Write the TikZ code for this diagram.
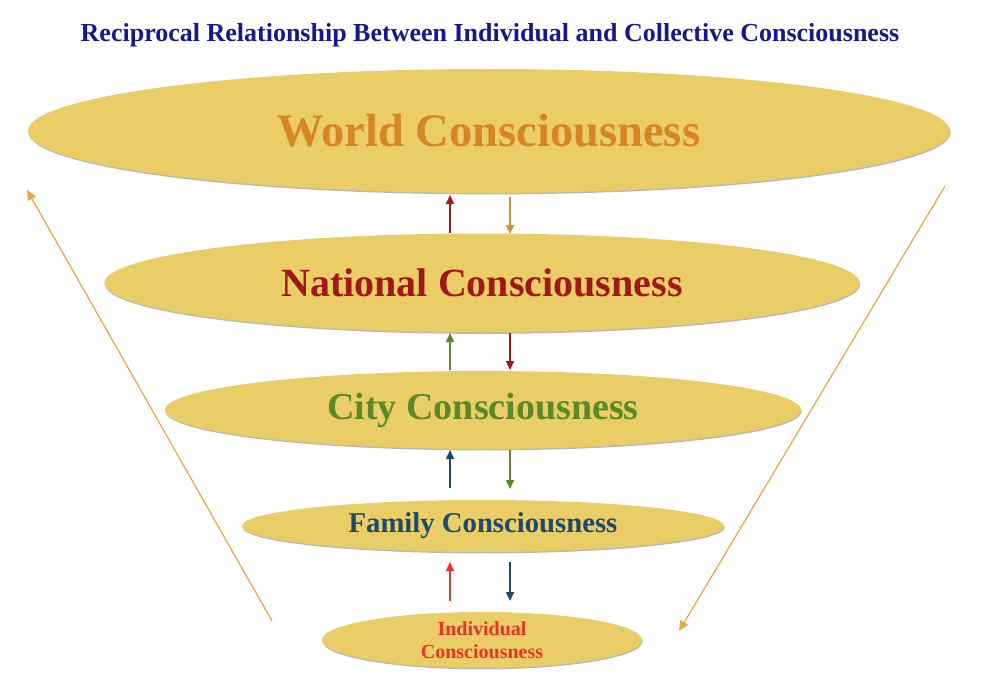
\documentclass[tikz,border=0pt]{standalone}
\usepackage{fontspec}
\setmainfont{Liberation Serif}
\usetikzlibrary{shapes.geometric,arrows.meta,shadows}
\definecolor{gold}{RGB}{234,205,102}
\definecolor{navytitle}{RGB}{22,24,140}
\definecolor{worldc}{RGB}{214,134,36}
\definecolor{natc}{RGB}{160,24,24}
\definecolor{cityc}{RGB}{92,136,40}
\definecolor{famc}{RGB}{30,74,106}
\definecolor{indc}{RGB}{236,50,40}
\definecolor{tanc}{RGB}{206,146,58}
\definecolor{sidec}{RGB}{240,164,64}
\tikzset{
  lvl/.style={ellipse, fill=gold, inner sep=0pt, font=\bfseries,
    drop shadow={shadow xshift=0.6pt, shadow yshift=-1.4pt, opacity=0.4, fill=black!70}},
  updown/.style={line width=1.5pt, -{Triangle[length=9pt,width=8pt]}},
  side/.style={line width=1.2pt, color=sidec, -{Triangle[length=10pt,width=9pt]}}
}
\begin{document}
\begin{tikzpicture}[x=1pt,y=-1pt]
\useasboundingbox (0,0) rectangle (982,690);
\node[font=\bfseries\fontsize{26}{30}\selectfont, text=navytitle] (title) at (490,35) {Reciprocal Relationship Between Individual and Collective Consciousness};

\node[lvl, minimum width=922pt, minimum height=124pt, text=worldc, font=\bfseries\fontsize{46.5}{52}\selectfont] (world) at (489,131) {World Consciousness};
\node[lvl, minimum width=755pt, minimum height=99pt, text=natc, font=\bfseries\fontsize{40}{46}\selectfont] (nat) at (482,283) {National Consciousness};
\node[lvl, minimum width=636pt, minimum height=78pt, text=cityc, font=\bfseries\fontsize{38}{44}\selectfont] (city) at (483,410) {City Consciousness};
\node[lvl, minimum width=482pt, minimum height=52pt, text=famc, font=\bfseries\fontsize{28.7}{33}\selectfont] (fam) at (483,526) {Family Consciousness};
\node[lvl, minimum width=320pt, minimum height=56pt, text=indc, align=center, font=\bfseries\fontsize{20}{23}\selectfont] (ind) at (482,640) {Individual\\Consciousness};

% arrow end points
\coordinate (wn1) at (450,233); \coordinate (wn2) at (450,195);
\coordinate (wn3) at (510,197); \coordinate (wn4) at (510,234);
\coordinate (nc1) at (450,370); \coordinate (nc2) at (450,333);
\coordinate (nc3) at (510,333); \coordinate (nc4) at (510,370);
\coordinate (cf1) at (450,488); \coordinate (cf2) at (450,450);
\coordinate (cf3) at (510,450); \coordinate (cf4) at (510,489);
\coordinate (fi1) at (450,601); \coordinate (fi2) at (450,562);
\coordinate (fi3) at (510,562); \coordinate (fi4) at (510,601);
\draw[updown, natc] (wn1) -- (wn2);
\draw[updown, tanc] (wn3) -- (wn4);
\draw[updown, cityc] (nc1) -- (nc2);
\draw[updown, natc] (nc3) -- (nc4);
\draw[updown, famc] (cf1) -- (cf2);
\draw[updown, cityc] (cf3) -- (cf4);
\draw[updown, indc] (fi1) -- (fi2);
\draw[updown, famc] (fi3) -- (fi4);

\coordinate (ls) at (272,621); \coordinate (le) at (27,190);
\coordinate (rs) at (945,186); \coordinate (re) at (679,631);
\draw[side] (ls) -- (le);
\draw[side] (rs) -- (re);
\end{tikzpicture}
\end{document}
